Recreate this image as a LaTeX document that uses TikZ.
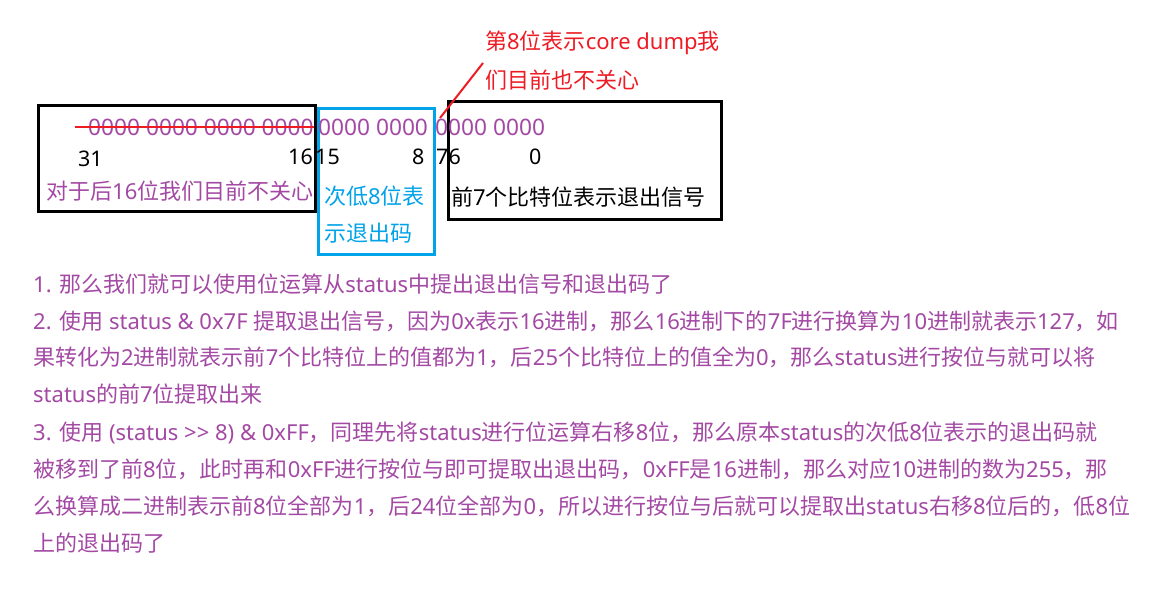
\documentclass[tikz,border=0pt]{standalone}
\usepackage{fontspec}
\setmainfont{Noto Sans}
\newfontfamily\cjkfont{Noto Sans CJK SC}
\newfontfamily\latinfont{Noto Sans}
\usetikzlibrary{positioning, calc}
% switch to the CJK font for ideographs and full-width marks
\makeatletter
\newXeTeXintercharclass\hanclass
\count@="3000 \loop \XeTeXcharclass\count@=\hanclass \ifnum\count@<"303F \advance\count@ 1 \repeat
\count@="4E00 \loop \XeTeXcharclass\count@=\hanclass \ifnum\count@<"9FFF \advance\count@ 1 \repeat
\count@="FF00 \loop \XeTeXcharclass\count@=\hanclass \ifnum\count@<"FFEF \advance\count@ 1 \repeat
\makeatother
\XeTeXinterchartoks 0 \hanclass = {\cjkfont}
\XeTeXinterchartoks 4095 \hanclass = {\cjkfont}
\XeTeXinterchartoks \hanclass 0 = {\latinfont}
\XeTeXinterchartoks \hanclass 4095 = {\latinfont}
\definecolor{bitpurple}{RGB}{163,73,164}
\definecolor{notered}{RGB}{237,28,36}
\definecolor{codeblue}{RGB}{0,162,232}
\tikzset{
  fieldbox/.style={
    rectangle, draw=black, line width=3pt,
    anchor=north west, inner sep=0pt
  },
  codebox/.style={fieldbox, draw=codeblue},
  bits/.style={
    text=bitpurple, font=\fontsize{22.7}{26}\selectfont,
    anchor=west, inner sep=0pt
  },
  bitno/.style={
    text=black, font=\fontsize{21.5}{24}\selectfont,
    anchor=west, inner sep=0pt
  },
  fieldlabel/.style={
    font=\fontsize{22}{26}\selectfont,
    anchor=west, inner sep=0pt
  },
  bodyline/.style={
    text=bitpurple, font=\fontsize{22}{26}\selectfont,
    anchor=west, inner sep=0pt
  },
  noteline/.style={draw=notered, line width=2pt},
  strikeline/.style={draw=notered, line width=2.6pt}
}
\XeTeXinterchartokenstate=1
\begin{document}
\begin{tikzpicture}[x=1pt, y=-1pt]
  \useasboundingbox (0,0) rectangle (1158,600);

  % the three fields of status
  \node[fieldbox, minimum width=277pt, minimum height=106pt] (highbox) at (37,104) {};
  \node[codebox, minimum width=116pt, minimum height=146pt] (codefield) at (317,107) {};
  \node[fieldbox, minimum width=273pt, minimum height=118pt] (sigfield) at (447,100) {};

  % bits
  \node[bits] (bitsHigh) at (88,127) {0000 0000 0000 0000};
  \node[bits] (bitsMid) at (318,127) {0000 0000};
  \node[bits] (bitsLow) at (435,127) {0000 0000};
  \draw[strikeline] ($(bitsHigh.west)+(-13,0)$) -- (bitsHigh.east);

  % bit numbers
  \node[bitno] (n31) at (78,159) {31};
  \node[bitno] (n16) at (288,157) {16};
  \node[bitno] (n15) at (315,157) {15};
  \node[bitno] (n8) at (412,157) {8};
  \node[bitno] (n76) at (436,157) {76};
  \node[bitno] (n0) at (529,157) {0};

  % field labels
  \node[fieldlabel, text=bitpurple] (highlabel) at (46,191) {对于后16位我们目前不关心};
  \node[fieldlabel, text=codeblue] (codelabelA) at (324,196) {次低8位表};
  \node[fieldlabel, text=codeblue] (codelabelB) at (324,233) {示退出码};
  \node[fieldlabel, text=black] (siglabel) at (451,197) {前7个比特位表示退出信号};

  % core dump note
  \node[fieldlabel, text=notered] (coreA) at (485,43) {第8位表示core dump我};
  \node[fieldlabel, text=notered] (coreB) at (485,80) {们目前也不关心};
  \coordinate (coretip) at (440,118);
  \coordinate (corefoot) at (483,63);
  \draw[noteline] (coretip) -- (corefoot);

  % explanation
  \node[bodyline] (line1) at (33,284) {1. 那么我们就可以使用位运算从status中提出退出信号和退出码了};
  \node[bodyline] (line2) at (33,321) {2. 使用 status \& 0x7F 提取退出信号，因为0x表示16进制，那么16进制下的7F进行换算为10进制就表示127，如};
  \node[bodyline] (line3) at (33,357) {果转化为2进制就表示前7个比特位上的值都为1，后25个比特位上的值全为0，那么status进行按位与就可以将};
  \node[bodyline] (line4) at (33,394) {status的前7位提取出来};
  \node[bodyline] (line5) at (33,433) {3. 使用 (status >> 8) \& 0xFF，同理先将status进行位运算右移8位，那么原本status的次低8位表示的退出码就};
  \node[bodyline] (line6) at (33,469) {被移到了前8位，此时再和0xFF进行按位与即可提取出退出码，0xFF是16进制，那么对应10进制的数为255，那};
  \node[bodyline] (line7) at (33,506) {么换算成二进制表示前8位全部为1，后24位全部为0，所以进行按位与后就可以提取出status右移8位后的，低8位};
  \node[bodyline] (line8) at (33,543) {上的退出码了};
\end{tikzpicture}
\end{document}
